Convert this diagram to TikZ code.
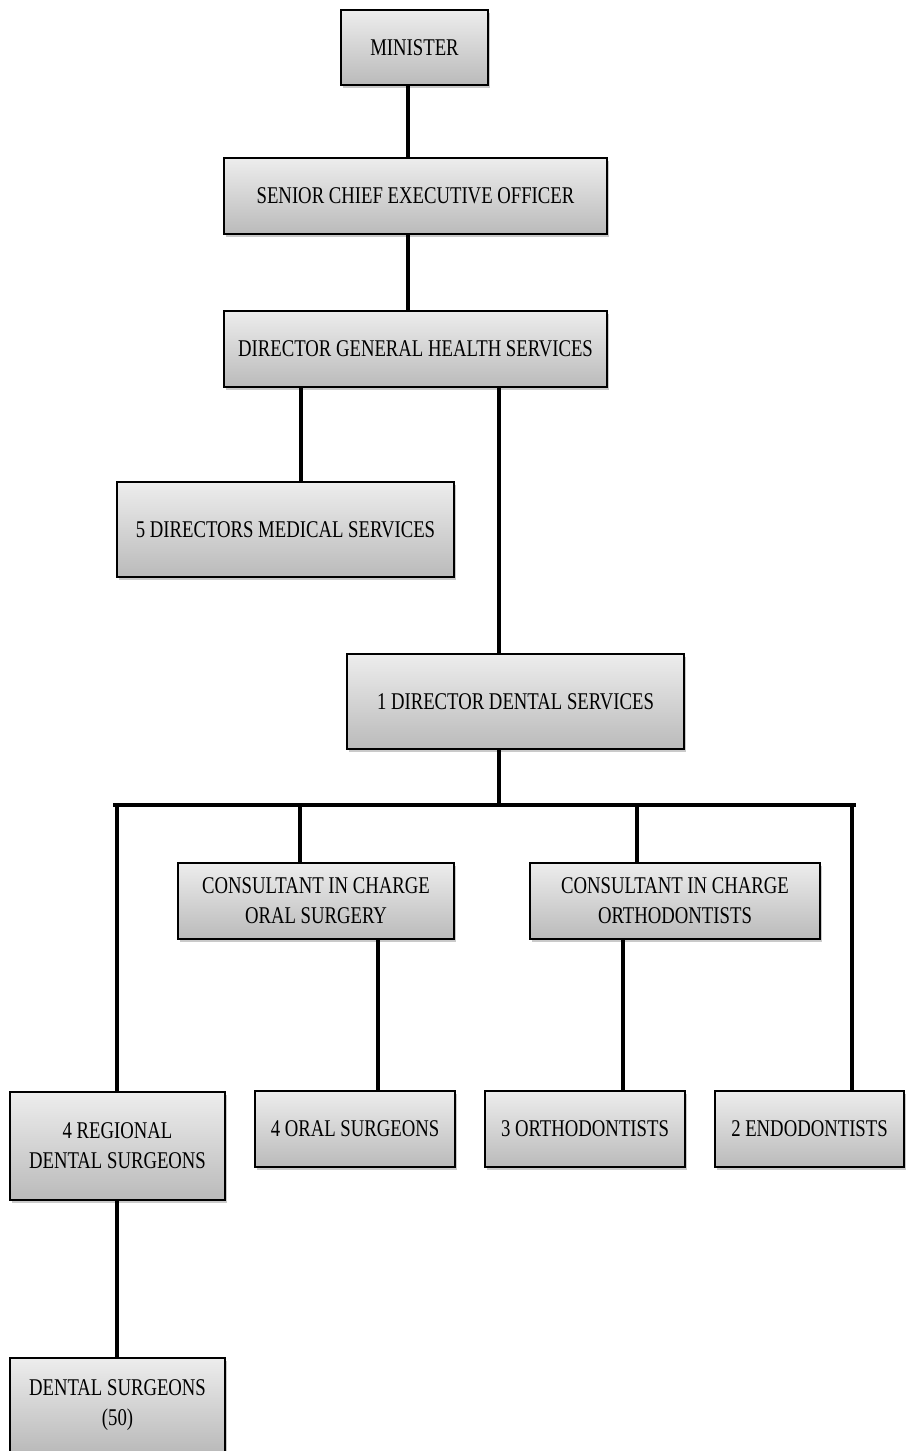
\documentclass[tikz,border=0pt]{standalone}
\usepackage{fontspec}
\setmainfont{Liberation Serif}[FakeStretch=0.78]
\usetikzlibrary{shadows}
\tikzset{
  orgbox/.style={draw=black, line width=1.1pt, rectangle, inner sep=0pt,
    top color=black!7, bottom color=black!27, align=center,
    font=\fontsize{24}{30}\selectfont,
    drop shadow={shadow xshift=2pt, shadow yshift=-2.5pt, opacity=0.35, fill=black!60}},
  link/.style={draw=black, line width=3.8pt}
}
\begin{document}
\begin{tikzpicture}[x=1pt,y=-1pt]
\useasboundingbox (0,0) rectangle (905,1451);
% boxes
\node[orgbox, minimum width=147pt, minimum height=75pt] (minister) at (414.5,47.5) {MINISTER};
\node[orgbox, minimum width=383pt, minimum height=76pt] (senior) at (415.5,196) {SENIOR CHIEF EXECUTIVE OFFICER};
\node[orgbox, minimum width=383pt, minimum height=76pt] (dg) at (415.5,349) {DIRECTOR GENERAL HEALTH SERVICES};
\node[orgbox, minimum width=337pt, minimum height=95pt] (dms) at (285.5,529.5) {5 DIRECTORS MEDICAL SERVICES};
\node[orgbox, minimum width=337pt, minimum height=95pt] (dds) at (515.5,701.5) {1 DIRECTOR DENTAL SERVICES};
\node[orgbox, minimum width=276pt, minimum height=76pt] (cos) at (316,901) {CONSULTANT IN CHARGE\\ORAL SURGERY};
\node[orgbox, minimum width=290pt, minimum height=76pt] (cor) at (675,901) {CONSULTANT IN CHARGE\\ORTHODONTISTS};
\node[orgbox, minimum width=215pt, minimum height=108pt] (rds) at (117.5,1146) {4 REGIONAL\\DENTAL SURGEONS};
\node[orgbox, minimum width=200pt, minimum height=76pt] (os) at (355,1129) {4 ORAL SURGEONS};
\node[orgbox, minimum width=200pt, minimum height=76pt] (orth) at (585,1129) {3 ORTHODONTISTS};
\node[orgbox, minimum width=189pt, minimum height=76pt] (endo) at (809.5,1129) {2 ENDODONTISTS};
\node[orgbox, minimum width=215pt, minimum height=94pt] (dsur) at (117.5,1405) {DENTAL SURGEONS\\(50)};
% helper coordinates
\coordinate (xa) at (408,0);
\coordinate (xb) at (301,0);
\coordinate (xc) at (499,0);
\coordinate (bar) at (0,805);
\coordinate (xl) at (117,0);
\coordinate (xo) at (300,0);
\coordinate (xt) at (637,0);
\coordinate (xr) at (852,0);
\coordinate (xs) at (378,0);
\coordinate (xu) at (623,0);
\coordinate (barL) at (115,805);
\coordinate (barR) at (854,805);
% connectors
\draw[link] (minister.south -| xa) -- (senior.north -| xa);
\draw[link] (senior.south -| xa) -- (dg.north -| xa);
\draw[link] (dg.south -| xb) -- (dms.north -| xb);
\draw[link] (dg.south -| xc) -- (dds.north -| xc);
\draw[link] (dds.south -| xc) -- (bar -| xc);
\draw[link, line cap=rect] (barL) -- (barR);
\draw[link] (bar -| xl) -- (rds.north -| xl);
\draw[link] (bar -| xo) -- (cos.north -| xo);
\draw[link] (bar -| xt) -- (cor.north -| xt);
\draw[link] (bar -| xr) -- (endo.north -| xr);
\draw[link] (cos.south -| xs) -- (os.north -| xs);
\draw[link] (cor.south -| xu) -- (orth.north -| xu);
\draw[link] (rds.south -| xl) -- (dsur.north -| xl);
\end{tikzpicture}
\end{document}
